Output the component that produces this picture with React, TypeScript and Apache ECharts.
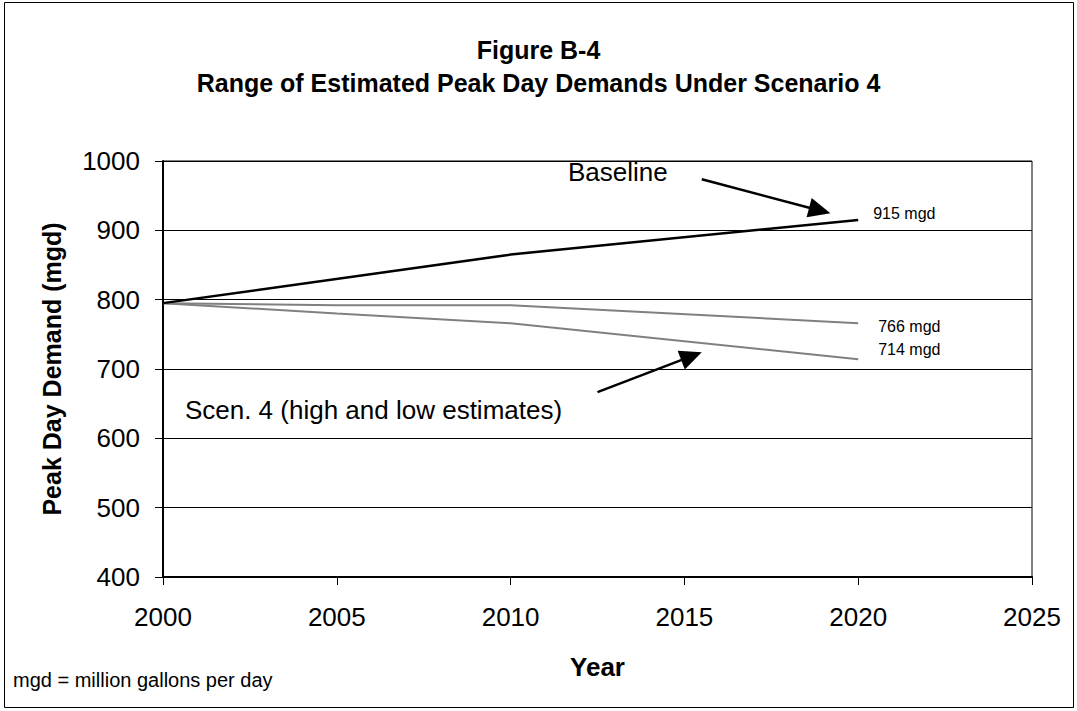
import React, { useEffect, useRef } from "react";
import * as echarts from "echarts";

const FONT = "'Liberation Sans', Arial, sans-serif";

const titleLines = ["Figure B-4", "Range of Estimated Peak Day Demands Under Scenario 4"];
const xAxisName = "Year";
const yAxisName = "Peak Day Demand (mgd)";
const footnote = "mgd = million gallons per day";

// [year, mgd]
const baselineData: [number, number][] = [[2000, 795], [2010, 865], [2020, 915]];
const highData: [number, number][] = [[2000, 795], [2005, 792], [2010, 792], [2020, 766]];
const lowData: [number, number][] = [[2000, 795], [2005, 780], [2010, 766], [2020, 714]];

const endLabelTexts = ["915 mgd", "766 mgd", "714 mgd"];

const xMin = 2000, xMax = 2025, xStep = 5;
const yMin = 400, yMax = 1000, yStep = 100;

// annotations in data coordinates
const annotationTexts = [
  { text: "Baseline", at: [2011.65, 983.7] },
  { text: "Scen. 4 (high and low estimates)", at: [2000.63, 640.4] },
];
const arrows = [
  { from: [2015.5, 973.6], to: [2019.2, 924.6] },
  { from: [2012.5, 666.6], to: [2015.5, 724.2] },
];

export default function App() {
  const ref = useRef<HTMLDivElement>(null);
  useEffect(() => {
    const chart = echarts.init(ref.current!, null, { renderer: "svg" });
    const option: any = {
      animation: false,
      backgroundColor: "#fff",
      title: {
        text: titleLines.join("\n"),
        left: "center",
        top: 28,
        textStyle: { fontFamily: FONT, fontSize: 25, fontWeight: "bold", color: "#000", lineHeight: 33 },
      },
      grid: {
        left: 163, right: 45, top: 161, bottom: 134,
        show: true, borderColor: "#000", borderWidth: 1, containLabel: false,
      },
      xAxis: {
        type: "value", min: xMin, max: xMax, interval: xStep,
        name: xAxisName, nameLocation: "middle", nameGap: 77,
        nameTextStyle: { fontFamily: FONT, fontSize: 26, fontWeight: "bold", color: "#000" },
        axisLine: { show: true, onZero: false, lineStyle: { color: "#000", width: 2 } },
        axisTick: { show: true, length: 8, lineStyle: { color: "#000", width: 1 } },
        axisLabel: { fontFamily: FONT, fontSize: 26, color: "#000", margin: 27, formatter: (v: number) => String(v) },
        splitLine: { show: false },
      },
      yAxis: {
        type: "value", min: yMin, max: yMax, interval: yStep,
        name: yAxisName, nameLocation: "middle", nameGap: 99, nameRotate: 90,
        nameTextStyle: { fontFamily: FONT, fontSize: 25, fontWeight: "bold", color: "#000" },
        axisLine: { show: true, onZero: false, lineStyle: { color: "#000", width: 2 } },
        axisTick: { show: true, length: 8, lineStyle: { color: "#000", width: 1 } },
        axisLabel: { fontFamily: FONT, fontSize: 26, color: "#000", margin: 23, formatter: (v: number) => String(v) },
        splitLine: { show: true, lineStyle: { color: "#000", width: 1 } },
      },
      series: [
        {
          type: "line", data: highData, showSymbol: false, z: 3,
          lineStyle: { color: "#808080", width: 2 }, itemStyle: { color: "#808080" },
          endLabel: { show: true, formatter: endLabelTexts[1], fontFamily: FONT, fontSize: 16, color: "#000", distance: 0, offset: [20, 3] },
        },
        {
          type: "line", data: lowData, showSymbol: false, z: 3,
          lineStyle: { color: "#808080", width: 2 }, itemStyle: { color: "#808080" },
          endLabel: { show: true, formatter: endLabelTexts[2], fontFamily: FONT, fontSize: 16, color: "#000", distance: 0, offset: [20, -10] },
        },
        {
          type: "line", data: baselineData, showSymbol: false, z: 4,
          lineStyle: { color: "#000", width: 2.5 }, itemStyle: { color: "#000" },
          endLabel: { show: true, formatter: endLabelTexts[0], fontFamily: FONT, fontSize: 16, color: "#000", distance: 0, offset: [15, -6] },
        },
      ],
    };
    chart.setOption(option);

    const graphics: any[] = [
      {
        type: "rect", shape: { x: 4.5, y: 2.5, width: 1069, height: 705 },
        style: { fill: "none", stroke: "#000", lineWidth: 1 }, silent: true, z: 100,
      },
      {
        type: "text", x: 13, y: 680,
        style: { text: footnote, fontFamily: FONT, fontSize: 20, fill: "#000", verticalAlign: "middle", align: "left" },
      },
    ];
    annotationTexts.forEach((a) => {
      const p = chart.convertToPixel({ gridIndex: 0 }, a.at as any) as number[];
      graphics.push({
        type: "text", x: p[0], y: p[1], z: 50,
        style: { text: a.text, fontFamily: FONT, fontSize: 26, fill: "#000", verticalAlign: "middle", align: "left" },
      });
    });
    const L = 22, W = 10;
    arrows.forEach((a) => {
      const p0 = chart.convertToPixel({ gridIndex: 0 }, a.from as any) as number[];
      const p1 = chart.convertToPixel({ gridIndex: 0 }, a.to as any) as number[];
      const dx = p1[0] - p0[0], dy = p1[1] - p0[1];
      const len = Math.sqrt(dx * dx + dy * dy);
      const ux = dx / len, uy = dy / len;
      const bx = p1[0] - ux * L, by = p1[1] - uy * L;
      const nx = -uy, ny = ux;
      graphics.push({
        type: "line", z: 50,
        shape: { x1: p0[0], y1: p0[1], x2: bx + ux * 2, y2: by + uy * 2 },
        style: { stroke: "#000", lineWidth: 2.5 },
      });
      graphics.push({
        type: "polygon", z: 50,
        shape: { points: [[p1[0], p1[1]], [bx + nx * W, by + ny * W], [bx - nx * W, by - ny * W]] },
        style: { fill: "#000" },
      });
    });
    chart.setOption({ graphic: graphics });

    return () => chart.dispose();
  }, []);
  return <div ref={ref} style={{ position: "fixed", left: 0, top: 0, width: 1077, height: 711 }} />;
}
